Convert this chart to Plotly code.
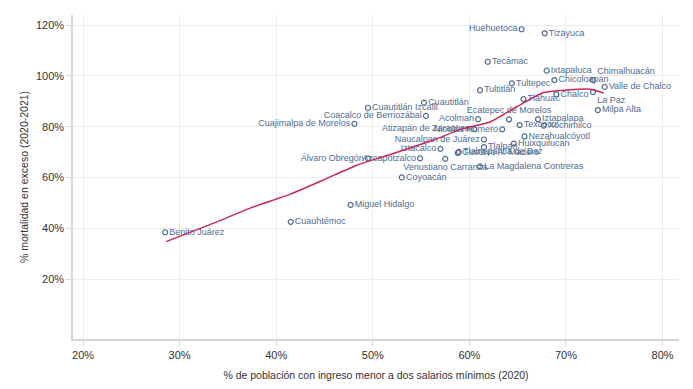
import plotly.graph_objects as go

# --- data ---
municipios = [
    "Huehuetoca", "Tizayuca", "Tecámac", "Ixtapaluca", "Chicoloapan", "Chimalhuacán",
    "Valle de Chalco", "La Paz", "Tultepec", "Tultitlán", "Tláhuac", "Chalco", "Milpa Alta",
    "Cuautitlán", "Cuautitlán Izcalli", "Coacalco de Berriozábal", "Cuajimalpa de Morelos",
    "Ecatepec de Morelos", "Acolman", "Iztapalapa", "Texcoco", "Xochimilco",
    "Atizapán de Zaragoza", "Nicolás Romero", "Naucalpan de Juárez", "Nezahualcóyotl",
    "Tlalpan", "Huixquilucan", "Iztacalco", "Gustavo A. Madero", "Tlalnepantla de Baz",
    "Álvaro Obregón", "Azcapotzalco", "Venustiano Carranza", "La Magdalena Contreras",
    "Coyoacán", "Miguel Hidalgo", "Cuauhtémoc", "Benito Juárez",
]
ingreso = [
    65.4, 67.8, 61.9, 68.0, 68.8, 72.8,
    74.0, 72.8, 64.4, 61.1, 65.6, 69.0, 73.3,
    55.3, 49.5, 55.5, 48.1,
    64.1, 60.9, 67.1, 65.2, 67.7,
    60.5, 63.4, 61.5, 65.7,
    61.5, 64.6, 57.0, 58.8, 58.9,
    49.5, 54.9, 57.5, 61.1,
    53.0, 47.7, 41.5, 28.5,
]
mortalidad = [
    118.4, 116.8, 105.6, 102.1, 98.4, 98.4,
    95.7, 93.7, 97.1, 94.4, 90.9, 92.8, 86.6,
    89.5, 87.5, 84.3, 81.2,
    82.9, 83.0, 83.0, 80.7, 80.5,
    79.1, 79.0, 75.0, 76.2,
    72.0, 73.4, 71.3, 69.7, 70.1,
    67.6, 67.6, 67.4, 64.4,
    60.1, 49.3, 42.6, 38.5,
]
posicion = [
    "middle left", "middle right", "middle right", "middle right", "middle right", "top right",
    "middle right", "bottom right", "middle right", "middle right", "middle right", "middle right", "middle right",
    "middle right", "middle right", "middle left", "middle left",
    "top center", "middle left", "middle right", "middle right", "middle right",
    "middle left", "middle left", "middle left", "middle right",
    "middle right", "middle right", "middle left", "middle right", "middle right",
    "middle left", "middle left", "bottom center", "middle right",
    "middle right", "middle right", "middle right", "middle right",
]

# smoothed (lowess) curve
curva_x = [28.6, 33.85, 37.3, 41.45, 44.9, 48.4, 52.2, 56.3, 59.1, 62.2, 64.9, 67.7, 72.5, 73.9]
curva_y = [34.8, 42.6, 48.0, 53.5, 59.1, 65.0, 69.6, 74.8, 79.0, 82.0, 87.9, 93.5, 94.8, 93.3]

x_ticks = [20, 30, 40, 50, 60, 70, 80]
y_ticks = [20, 40, 60, 80, 100, 120]

FONT = "Liberation Sans, Arial, sans-serif"
MARK = "#4f6c92"
LINE = "#c8285a"

fig = go.Figure()
fig.add_trace(go.Scatter(
    x=ingreso, y=mortalidad, text=municipios, mode="markers+text",
    textposition=posicion,
    marker=dict(symbol="circle-open", size=5, color=MARK, line=dict(width=1.2, color=MARK)),
    textfont=dict(family=FONT, size=9, color="#4f6c92"),
    hoverinfo="text", showlegend=False,
))
fig.add_trace(go.Scatter(
    x=curva_x, y=curva_y, mode="lines",
    line=dict(color=LINE, width=1.5, shape="spline", smoothing=0.5),
    hoverinfo="skip", showlegend=False,
))

# page body has an 8px margin; figure sized to fit the 693x389 window
fig.update_layout(
    width=677, height=373,
    margin=dict(l=65, r=6, t=7, b=42),
    paper_bgcolor="white", plot_bgcolor="white",
    font=dict(family=FONT, size=11, color="#333333"),
)
fig.update_xaxes(
    range=[18.96, 81.7], tickvals=x_ticks, ticktext=[f"{v}%" for v in x_ticks],
    showgrid=True, gridcolor="#ececec", gridwidth=1,
    showline=True, linecolor="#d6d6d6", linewidth=1.5,
    ticks="outside", ticklen=5, tickcolor="#d6d6d6",
    zeroline=False, automargin=False,
    title=dict(text="% de población con ingreso menor a dos salarios mínimos (2020)",
               font=dict(family=FONT, size=10.5, color="#333333"), standoff=13),
    tickfont=dict(family=FONT, size=11, color="#333333"),
)
fig.update_yaxes(
    range=[-3.5, 124.0], tickvals=y_ticks, ticktext=[f"{v}%" for v in y_ticks],
    showgrid=True, gridcolor="#ececec", gridwidth=1,
    showline=True, linecolor="#d6d6d6", linewidth=1.5,
    ticks="outside", ticklen=5, tickcolor="#d6d6d6",
    zeroline=False, automargin=False,
    title=dict(text="% mortalidad en exceso (2020-2021)",
               font=dict(family=FONT, size=10.5, color="#333333"), standoff=5),
    tickfont=dict(family=FONT, size=11, color="#333333"),
)

fig.write_html("out.html")
